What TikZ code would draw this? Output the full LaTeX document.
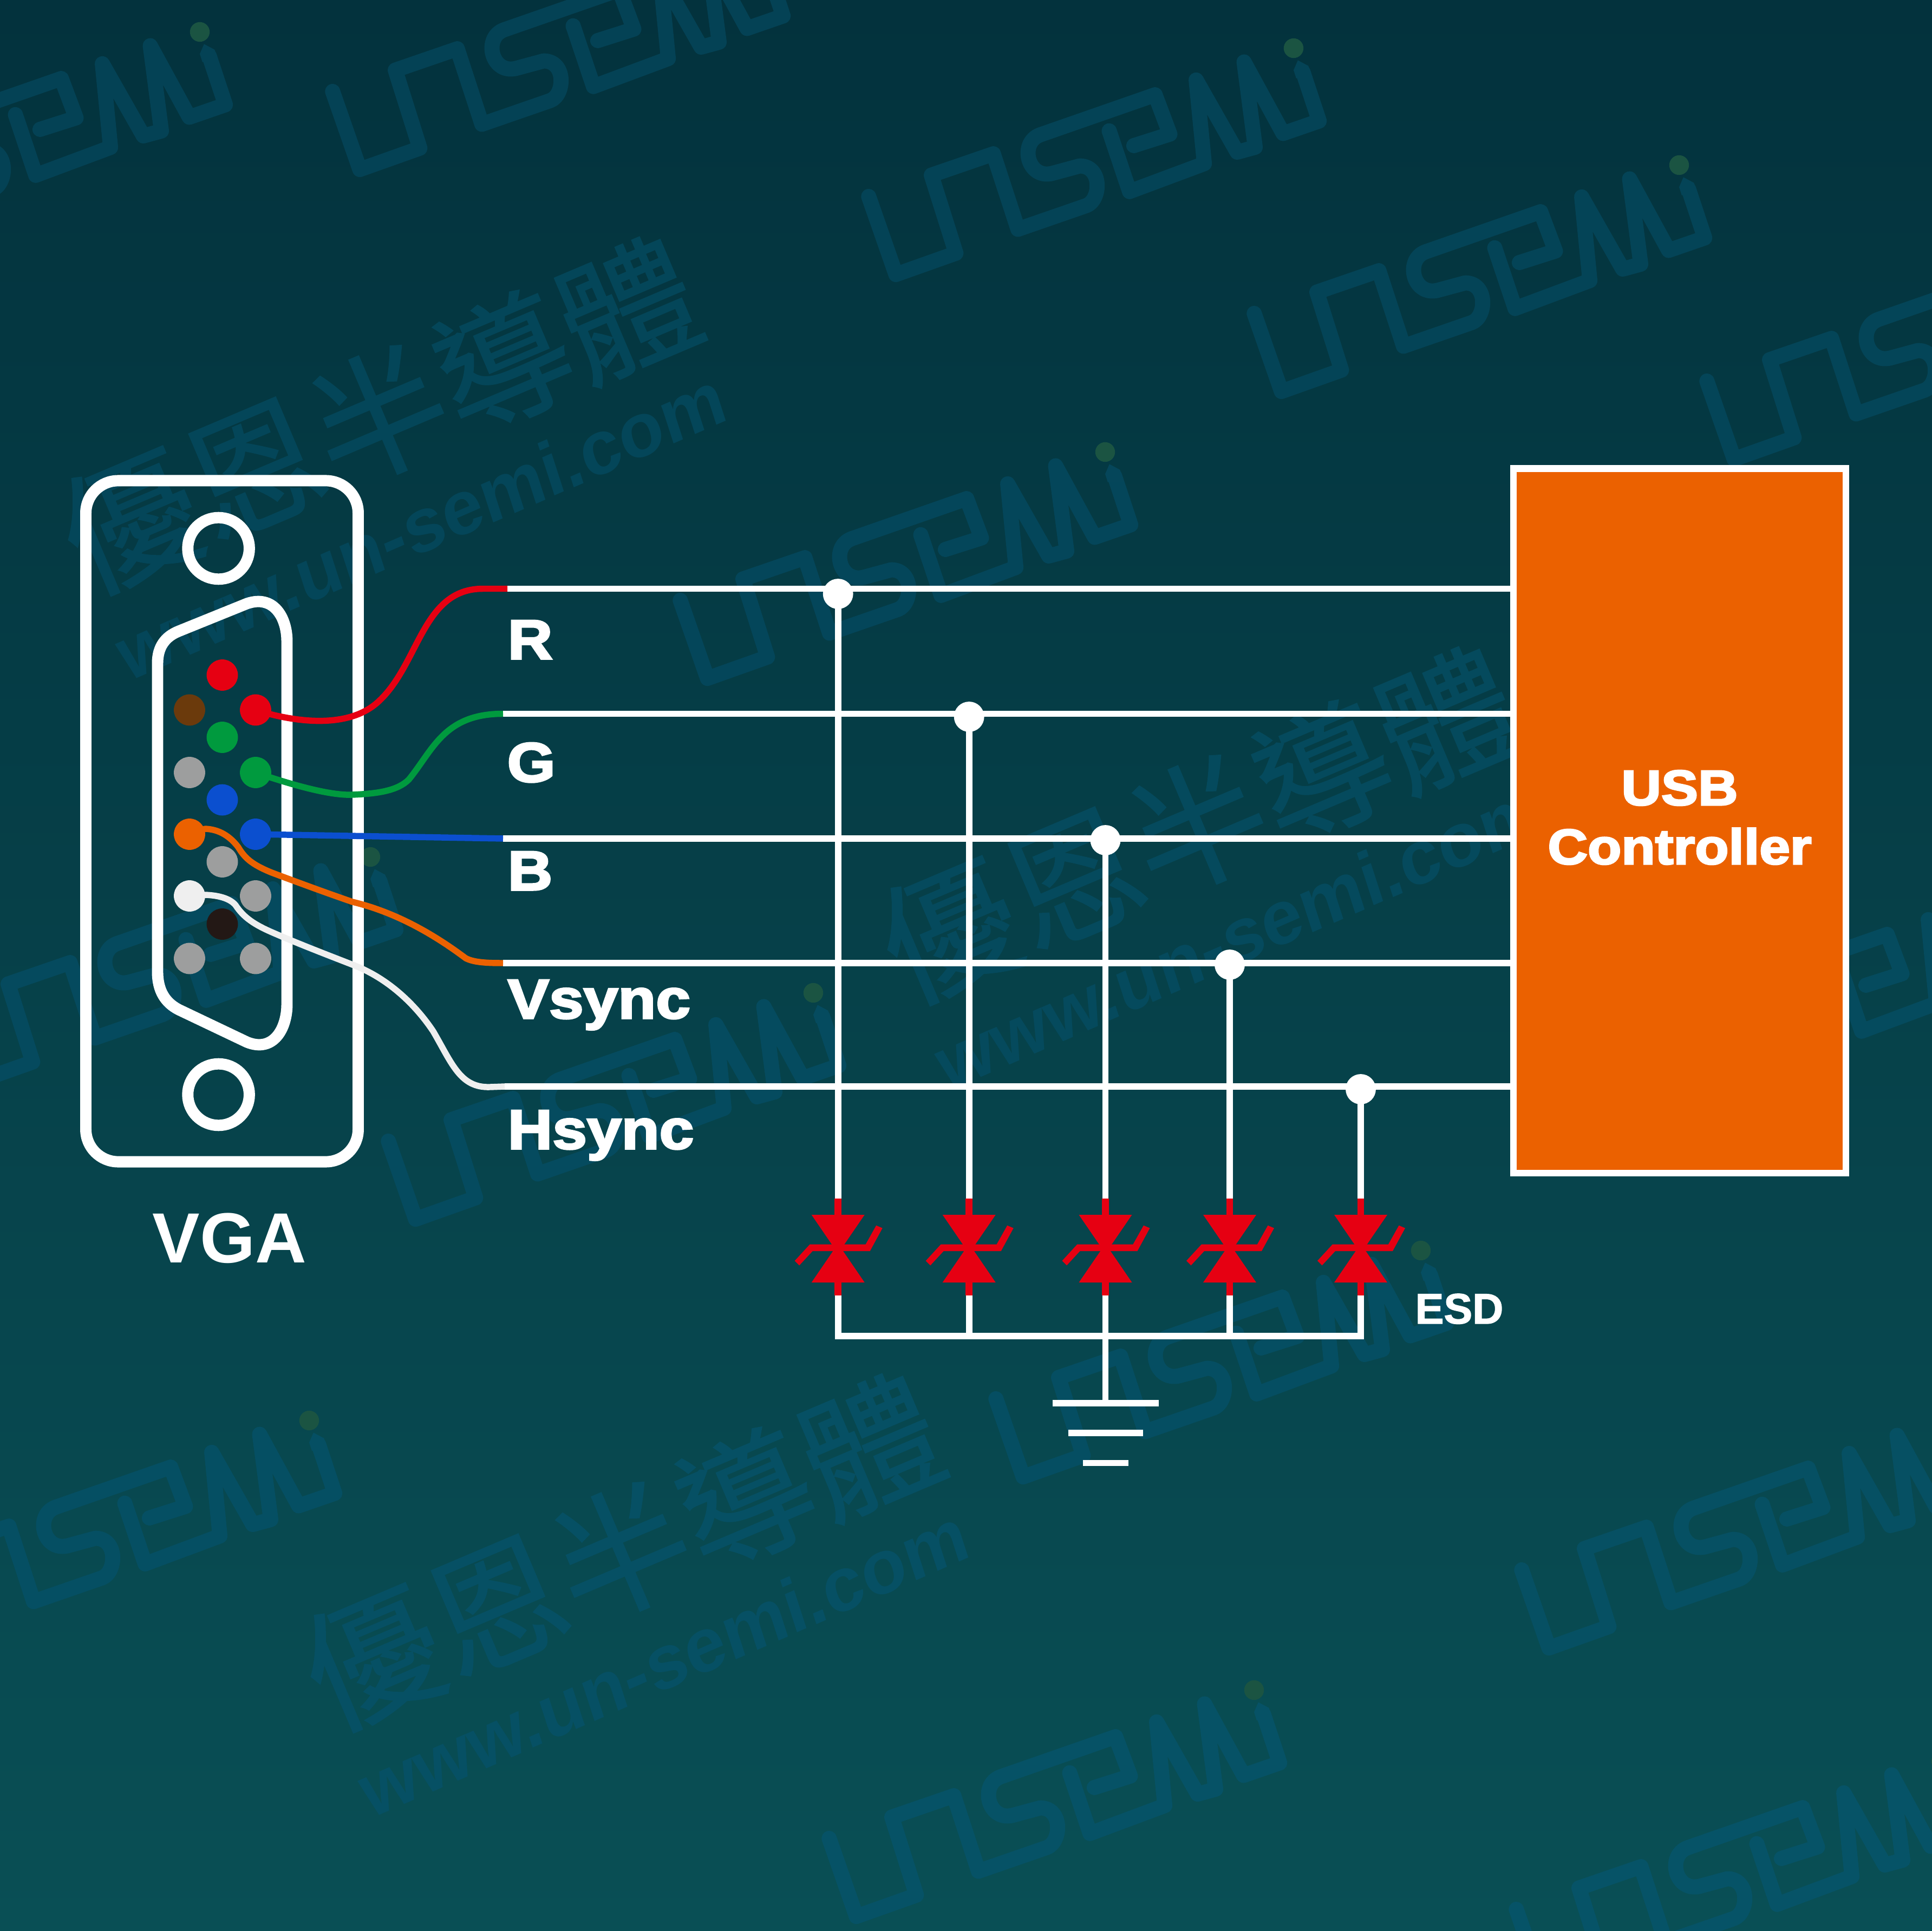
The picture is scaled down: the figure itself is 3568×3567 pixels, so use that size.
\documentclass[tikz,border=0pt]{standalone}
\usepackage{fontspec}
\setmainfont{Liberation Sans}
\newfontfamily\heavyf[BoldFeatures={FakeStretch=1.115,FakeBold=3.4}]{Liberation Sans}
\newfontfamily\esdf[BoldFeatures={FakeBold=1.6}]{Liberation Sans}
\newfontfamily\urlf[BoldFeatures={FakeSlant=0.1}]{Liberation Sans}
\newfontfamily\cjkf[FakeBold=0.8]{Noto Sans CJK TC}
\def\pxu{0.2835pt}
\definecolor{bgT}{RGB}{3,50,61}
\definecolor{bgB}{RGB}{9,79,85}
\definecolor{wmT}{RGB}{4,66,85}
\definecolor{wmB}{RGB}{6,84,104}
\definecolor{wmdot}{RGB}{27,84,66}
\definecolor{vred}{RGB}{230,0,18}
\definecolor{vgreen}{RGB}{0,154,62}
\definecolor{vblue}{RGB}{11,79,207}
\definecolor{vorange}{RGB}{235,97,0}
\definecolor{vgray}{RGB}{157,158,158}
\definecolor{vbrown}{RGB}{107,58,12}
\definecolor{vdark}{RGB}{35,24,21}
\definecolor{vwhite}{RGB}{239,239,239}
\usetikzlibrary{calc}
\tikzset{
  sig/.style={draw=white,line width=12*\pxu},
  wire/.style={line width=11.5*\pxu,line join=round},
  pinstyle/.style={circle,inner sep=0pt,minimum size=58*\pxu},
  junction/.style={circle,fill=white,inner sep=0pt,minimum size=56*\pxu},
  frameline/.style={draw=white,line width=21*\pxu},
  sigfont/.style={text=white,inner sep=0pt,anchor=base west,font=\heavyf\bfseries\fontsize{29.2pt}{29.2pt}\selectfont},
  ctrlfont/.style={text=white,inner sep=0pt,anchor=base,font=\heavyf\bfseries\fontsize{26pt}{26pt}\selectfont},
  logoline/.style={line width=28*\pxu,line cap=round,line join=round},
}
\newcommand{\logoat}[3]{%
  \colorlet{wm}{wmB!#3!wmT}%
  \begin{scope}[shift={(#1,#2)},scale=.606,shift={(-1387,-148)}]
    \draw[logoline,draw=wm] (92,600) -- (175,838) -- (358,773) -- (283,535) -- (472,470) -- (547,700) -- (755,628)
      .. controls (800,612) and (805,507) .. (735,507) -- (650,530)
      .. controls (575,547) and (550,435) .. (615,412) -- (965,290) -- (1010,410) -- (900,445);
    \draw[logoline,draw=wm] (825,400) -- (887,585) -- (1115,500) -- (1090,245) -- (1215,465) -- (1270,450) -- (1236,190) -- (1355,408) -- (1465,370) -- (1416,222);
    \fill[wm] (1387,215) -- (1400,185) -- (1432,202) -- (1445,240) -- (1395,240) -- cycle;
    \fill[wmdot] (1387,148) circle (30);
  \end{scope}}
\newcommand{\wmtext}[4]{%
  \colorlet{wm}{wmB!#3!wmT}%
  \node[rotate=23,text=wm,inner sep=0pt,font=\cjkf\fontsize{71pt}{71pt}\selectfont] (wz#4) at (#1,#2) {優恩半導體};
  \node[rotate=23.6,text=wm,inner sep=0pt,font=\urlf\bfseries\fontsize{39.5pt}{39.5pt}\selectfont] (wu#4) at ($(#1,#2)+(73,205)$) {www.un-semi.com};}
\begin{document}
\begin{tikzpicture}[x=0.01cm,y=-0.01cm]
\useasboundingbox (0,0) rectangle (3568,3567);
\clip (0,0) rectangle (3568,3567);
\shade[top color=bgT,bottom color=bgB] (0,0) rectangle (3568,3567);
% watermarks
\logoat{369}{59}{2}
\logoat{1399}{-105}{1}
\logoat{2389}{89}{4}
\logoat{3101}{305}{10}
\logoat{3937}{430}{14}
\logoat{2041}{835}{25}
\logoat{684}{1583}{46}
\logoat{1502}{1834}{52}
\logoat{3741}{1640}{48}
\logoat{2624}{2310}{66}
\logoat{571}{2624}{74}
\logoat{3595}{2626}{76}
\logoat{2316}{3122}{90}
\logoat{3585}{3253}{95}
\wmtext{699}{767}{22}{a}
\wmtext{2212}{1524}{43}{b}
\wmtext{1147}{2867}{80}{c}
% VGA connector
\node[frameline,rectangle,rounded corners=60*\pxu,minimum width=504.5*\pxu,minimum height=1262*\pxu,inner sep=0pt] (frame) at (410,1517) {};
\node[frameline,circle,minimum size=114*\pxu,inner sep=0pt] (screwT) at (403.6,1013) {};
\node[frameline,circle,minimum size=114*\pxu,inner sep=0pt] (screwB) at (403.6,2022) {};
\draw[frameline,line join=round] (291,1225) .. controls (291,1195) and (305,1176) .. (330,1166) -- (456,1115)
  .. controls (505,1098) and (530,1140) .. (530,1185) -- (530,1855)
  .. controls (530,1900) and (505,1945) .. (456,1925) -- (330,1865)
  .. controls (305,1852) and (291,1830) .. (291,1795) -- cycle;
% pins
\node[pinstyle,fill=vred] (p1) at (410.5,1247) {};
\node[pinstyle,fill=vbrown] (p2) at (350,1311.5) {};
\node[pinstyle,fill=vred] (pR) at (472,1311.5) {};
\node[pinstyle,fill=vgreen] (p4) at (410.5,1362) {};
\node[pinstyle,fill=vgray] (p5) at (350,1427) {};
\node[pinstyle,fill=vgreen] (pG) at (472,1427) {};
\node[pinstyle,fill=vblue] (p7) at (410.5,1477.6) {};
\node[pinstyle,fill=vorange] (pV) at (350,1541) {};
\node[pinstyle,fill=vblue] (pB) at (472,1541) {};
\node[pinstyle,fill=vgray] (p10) at (410.5,1592) {};
\node[pinstyle,fill=vwhite] (pH) at (350,1655) {};
\node[pinstyle,fill=vgray] (p12) at (472,1655) {};
\node[pinstyle,fill=vdark] (p13) at (410.5,1707) {};
\node[pinstyle,fill=vgray] (p14) at (350,1770.5) {};
\node[pinstyle,fill=vgray] (p15) at (472,1770.5) {};
% controller
\node[draw=white,line width=12.5*\pxu,fill=vorange,rectangle,minimum width=616*\pxu,minimum height=1305.5*\pxu,inner sep=0pt] (ctrl) at (3102,1516.3) {};
\node[ctrlfont] (tusb) at (3102,1487) {USB};
\node[ctrlfont] (tctrl) at (3102,1596) {Controller};
% signal start points
\coordinate (sR) at (937,1087.5);
\coordinate (sG) at (929,1318.5);
\coordinate (sB) at (929,1549);
\coordinate (sV) at (929,1779);
\coordinate (sH) at (932,2007);
\draw[sig] (sR) -- (sR -| ctrl.west);
\draw[sig] (sG) -- (sG -| ctrl.west);
\draw[sig] (sB) -- (sB -| ctrl.west);
\draw[sig] (sV) -- (sV -| ctrl.west);
\draw[sig] (sH) -- (sH -| ctrl.west);
% coloured wires
\draw[wire,draw=vred] (pR.center) .. controls (530,1330) and (640,1352) .. (700,1295)
  .. controls (775,1225) and (780,1087.5) .. (892,1087.5) -- (sR);
\draw[wire,draw=vgreen] (pG.center) .. controls (540,1450) and (610,1470) .. (651,1468)
  .. controls (700,1466) and (735,1460) .. (755,1440)
  .. controls (800,1385) and (820,1318.5) .. (sG);
\draw[wire,draw=vblue] (pB.center) -- (sB);
\draw[wire,draw=vorange] (pV.center) -- (379,1531) .. controls (405,1532) and (425,1545) .. (440,1565)
  .. controls (452,1585) and (465,1597) .. (502,1612)
  .. controls (550,1630) and (610,1652) .. (651,1666)
  .. controls (730,1685) and (800,1725) .. (860,1770)
  .. controls (875,1778) and (900,1779) .. (sV);
\draw[wire,draw=vwhite] (pH.center) -- (379,1653) .. controls (405,1654) and (425,1660) .. (435,1672)
  .. controls (450,1695) and (470,1708) .. (502,1722)
  .. controls (550,1743) and (610,1766) .. (651,1782)
  .. controls (720,1808) and (770,1860) .. (800,1905)
  .. controls (835,1965) and (850,2010) .. (905,2008) -- (sH);
% labels
\node[sigfont] (lR) at (937,1217) {R};
\node[sigfont] (lG) at (936,1444) {G};
\node[sigfont] (lB) at (937,1644) {B};
\node[sigfont] (lV) at (937,1881) {Vsync};
\node[sigfont] (lH) at (937,2122) {Hsync};
\node[text=white,inner sep=0pt,anchor=base,font=\bfseries\fontsize{37.3pt}{37.3pt}\selectfont] (lVGA) at (424,2332) {VGA};
\node[text=white,inner sep=0pt,anchor=base,font=\esdf\bfseries\fontsize{22.5pt}{22.5pt}\selectfont] (lESD) at (2695,2445) {ESD};
% ESD branches
\node[junction] (j1) at (1547.7,1097) {};
\node[junction] (j2) at (1789.7,1324) {};
\node[junction] (j3) at (2041.5,1552) {};
\node[junction] (j4) at (2271,1782) {};
\node[junction] (j5) at (2513,2012) {};
\coordinate (bus) at (2041.5,2468);
\foreach \n/\x in {1/1547.7,2/1789.7,3/2041.5,4/2271,5/2513}{
  \coordinate (dT\n) at (\x,2214);
  \coordinate (dB\n) at (\x,2393);
  \draw[sig] (j\n.center) -- (dT\n);
  \draw[vred,line width=12.5*\pxu] (dT\n) -- (dB\n);
  \fill[vred] (\x-49,2244) -- (\x+49,2244) -- (\x,2315.6) -- cycle;
  \fill[vred] (\x-49,2369) -- (\x+49,2369) -- (\x,2297.4) -- cycle;
  \fill[vred] (\x-52,2298.5) -- (\x+51,2298.5) -- (\x+70.5,2263.7) -- (\x+82,2268.6) -- (\x+59,2311) -- (\x-47,2311) -- (\x-71.5,2337.5) -- (\x-80,2329) -- cycle;
}
\draw[sig,line join=miter] (dB1) -- (dB1 |- bus) -- (dB5 |- bus) -- (dB5);
\draw[sig] (dB2) -- (dB2 |- bus);
\draw[sig] (dB3) -- (dB3 |- bus);
\draw[sig] (dB4) -- (dB4 |- bus);
% ground
\coordinate (g1) at (2041.5,2592);
\coordinate (g2) at (2041.5,2647);
\coordinate (g3) at (2041.5,2702.5);
\draw[sig] (bus) -- (g1);
\draw[sig] ($(g1)+(-98,0)$) -- ($(g1)+(98,0)$);
\draw[sig] ($(g2)+(-69,0)$) -- ($(g2)+(69,0)$);
\draw[sig] ($(g3)+(-42,0)$) -- ($(g3)+(42,0)$);
\end{tikzpicture}
\end{document}
